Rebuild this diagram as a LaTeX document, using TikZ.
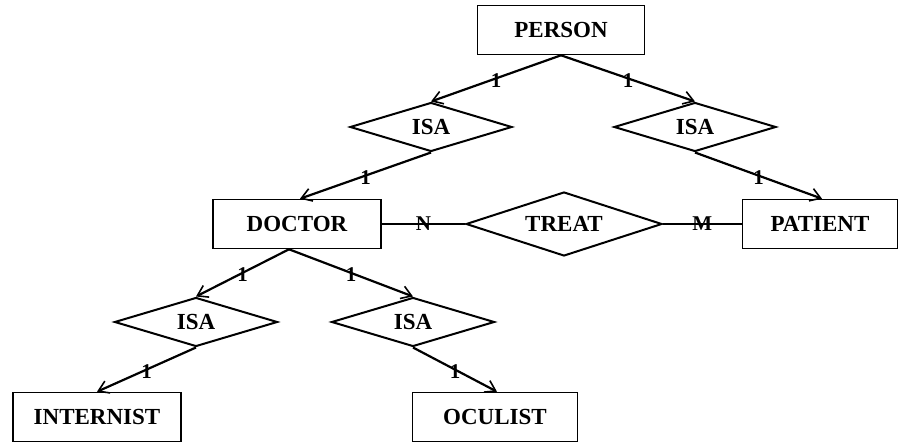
\documentclass[tikz,border=0pt]{standalone}
\usepackage{fontspec}
\setmainfont{Liberation Serif}
\usetikzlibrary{arrows.meta,shapes.geometric}
\begin{document}
\begin{tikzpicture}[x=1pt,y=-1pt,
  entity/.style={draw,line width=1.6pt,inner sep=0pt,minimum height=49pt,font=\fontsize{23}{23}\selectfont\bfseries},
  relation/.style={draw,diamond,line width=2pt,inner sep=0pt,aspect=3.4,font=\fontsize{23}{23}\selectfont\bfseries},
  link/.style={line width=2.2pt},
  isa/.style={link,-{Straight Barb[length=10pt,width=13pt,line width=1.6pt]}},
  card/.style={font=\fontsize{21}{21}\selectfont\bfseries,inner sep=0pt},
  cardup/.style={card,yshift=-2pt}]
\useasboundingbox (0,0) rectangle (902,443);

% entities
\node[entity,minimum width=167pt] (person)    at (561,30)  {PERSON};
\node[entity,minimum width=168pt] (doctor)    at (297,224) {DOCTOR};
\node[entity,minimum width=155pt] (patient)   at (820,224) {PATIENT};
\node[entity,minimum width=168pt] (internist) at (97,417)  {INTERNIST};
\node[entity,minimum width=165pt] (oculist)   at (495,417) {OCULIST};

% relationships
\node[relation,minimum width=162pt,minimum height=49pt] (isaD) at (431,127) {ISA};
\node[relation,minimum width=162pt,minimum height=49pt] (isaP) at (695,127) {ISA};
\node[relation,minimum width=163pt,minimum height=49pt] (isaI) at (196,322) {ISA};
\node[relation,minimum width=163pt,minimum height=49pt] (isaO) at (413,322) {ISA};
\node[relation,minimum width=196pt,minimum height=64pt] (treat) at (564,224) {TREAT};

% bottom apex of the DOCTOR box
\coordinate (dbot) at ([xshift=-8pt]doctor.south);

% generalisation links
\draw[isa] (person.south) -- node[cardup]{1} (isaD.north);
\draw[isa] (person.south) -- node[cardup]{1} (isaP.north);
\draw[isa] (isaD.south) -- node[cardup]{1} ([xshift=3pt]doctor.north);
\draw[isa] (isaP.south) -- node[cardup]{1} ([xshift=2pt]patient.north);
\draw[isa] (dbot) -- node[cardup]{1} (isaI.north);
\draw[isa] (dbot) -- node[cardup]{1} (isaO.north);
\draw[isa] (isaI.south) -- node[cardup]{1} (internist.north);
\draw[isa] (isaO.south) -- node[cardup]{1} ([xshift=2pt]oculist.north);

% TREAT relationship
\draw[link] (doctor.east) -- node[card]{N} (treat.west);
\draw[link] (treat.east) -- node[card]{M} (patient.west);
\end{tikzpicture}
\end{document}
